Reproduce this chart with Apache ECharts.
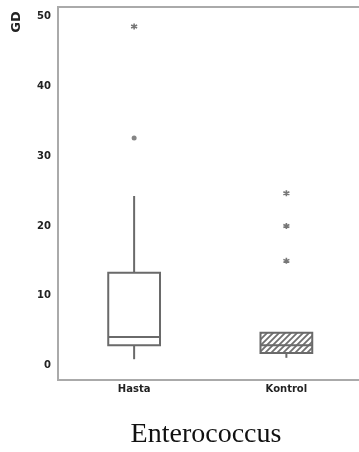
<!DOCTYPE html>
<html>
<head>
<meta charset="utf-8">
<script src="https://cdn.jsdelivr.net/npm/echarts@6/dist/echarts.min.js"></script>
<style>
  html, body { margin: 0; padding: 0; background: #fff; overflow: hidden; }
  #chart { width: 366px; height: 452px; }
</style>
</head>
<body>
<div id="chart"></div>
<script>
// Groups on the x axis
const categories = ['Hasta', 'Kontrol'];

// Box summary per group (GD)
const whiskerLow  = [0.9, 1.1];
const q1          = [2.9, 1.8];
const median      = [4.1, 2.9];
const q3          = [13.3, 4.7];
const whiskerHigh = [24.3, 4.7];

// Outlying points: [group index, value]
const outliers = [[0, 32.6]];
const extremes = [[0, 48.6], [1, 15.0], [1, 20.0], [1, 24.7]];

// Y axis tick labels
const yTicks = [0, 10, 20, 30, 40, 50];

// Diagonal hatch used for the second box
function makeHatch() {
  const c = document.createElement('canvas');
  c.width = 6; c.height = 6;
  const g = c.getContext('2d');
  g.fillStyle = '#ffffff';
  g.fillRect(0, 0, 6, 6);
  g.strokeStyle = '#707070';
  g.lineWidth = 1.8;
  g.beginPath();
  g.moveTo(-1, 7); g.lineTo(7, -1);
  g.moveTo(-4, 4); g.lineTo(4, -4);
  g.moveTo(2, 10); g.lineTo(10, 2);
  g.stroke();
  return c;
}
const hatch = { image: makeHatch(), repeat: 'repeat' };
const boxFills = ['#ffffff', hatch];

const boxData = categories.map((c, i) => [i, whiskerLow[i], q1[i], median[i], q3[i], whiskerHigh[i]]);

const asterisk = 'path://M5,0L5,10M0.7,2.5L9.3,7.5M0.7,7.5L9.3,2.5';

const chart = echarts.init(document.getElementById('chart'), null, { renderer: 'canvas' });

chart.setOption({
  animation: false,
  grid: {
    left: 58, right: 3.5, top: 7, bottom: 72,
    show: true, borderColor: '#aaaaaa', borderWidth: 2, backgroundColor: 'transparent'
  },
  xAxis: {
    type: 'category',
    data: categories,
    boundaryGap: true,
    axisLine: { show: false },
    axisTick: { show: false },
    axisLabel: {
      margin: 4,
      color: '#222',
      fontFamily: 'DejaVu Sans',
      fontWeight: 'bold',
      fontSize: 10
    }
  },
  yAxis: {
    type: 'value',
    min: -2.08,
    max: 51.39,
    splitLine: { show: false },
    axisLine: { show: false },
    axisTick: { show: false },
    axisLabel: {
      customValues: yTicks,
      margin: 7,
      color: '#222',
      fontFamily: 'DejaVu Sans',
      fontWeight: 'bold',
      fontSize: 10
    }
  },
  graphic: [
    {
      type: 'text',
      x: 17, y: 22,
      rotation: Math.PI / 2,
      style: {
        text: 'GD',
        fill: '#222',
        font: 'bold 13px "DejaVu Sans"',
        align: 'center',
        verticalAlign: 'middle'
      }
    },
    {
      type: 'text',
      x: 206, y: 435,
      style: {
        text: 'Enterococcus',
        fill: '#111',
        font: '28px "Liberation Serif"',
        align: 'center',
        verticalAlign: 'middle'
      }
    }
  ],
  series: [
    {
      type: 'custom',
      data: boxData,
      encode: { x: 0, y: [1, 2, 3, 4, 5] },
      renderItem: function (params, api) {
        const i = api.value(0);
        const lo = api.coord([i, api.value(1)]);
        const b1 = api.coord([i, api.value(2)]);
        const md = api.coord([i, api.value(3)]);
        const b3 = api.coord([i, api.value(4)]);
        const hi = api.coord([i, api.value(5)]);
        const half = api.size([1, 0])[0] * 0.17;
        const cx = lo[0];
        const lineStyle = { stroke: '#6a6a6a', lineWidth: 2 };
        const children = [];
        if (hi[1] < b3[1] - 0.5) {
          children.push({ type: 'line', shape: { x1: cx, y1: hi[1], x2: cx, y2: b3[1] }, style: lineStyle });
        }
        if (lo[1] > b1[1] + 0.5) {
          children.push({ type: 'line', shape: { x1: cx, y1: b1[1], x2: cx, y2: lo[1] }, style: lineStyle });
        }
        children.push({
          type: 'rect',
          shape: { x: cx - half, y: b3[1], width: half * 2, height: b1[1] - b3[1] },
          style: { fill: boxFills[i], stroke: '#6a6a6a', lineWidth: 2 }
        });
        children.push({
          type: 'line',
          shape: { x1: cx - half, y1: md[1], x2: cx + half, y2: md[1] },
          style: lineStyle
        });
        return { type: 'group', children: children };
      },
      z: 2
    },
    {
      type: 'scatter',
      data: outliers,
      symbol: 'circle',
      symbolSize: 5,
      itemStyle: { color: '#666' },
      z: 3
    },
    {
      type: 'scatter',
      data: extremes,
      symbol: asterisk,
      symbolSize: 6,
      itemStyle: { color: 'transparent', borderColor: '#555', borderWidth: 1.6 },
      z: 3
    }
  ]
});
</script>
</body>
</html>
